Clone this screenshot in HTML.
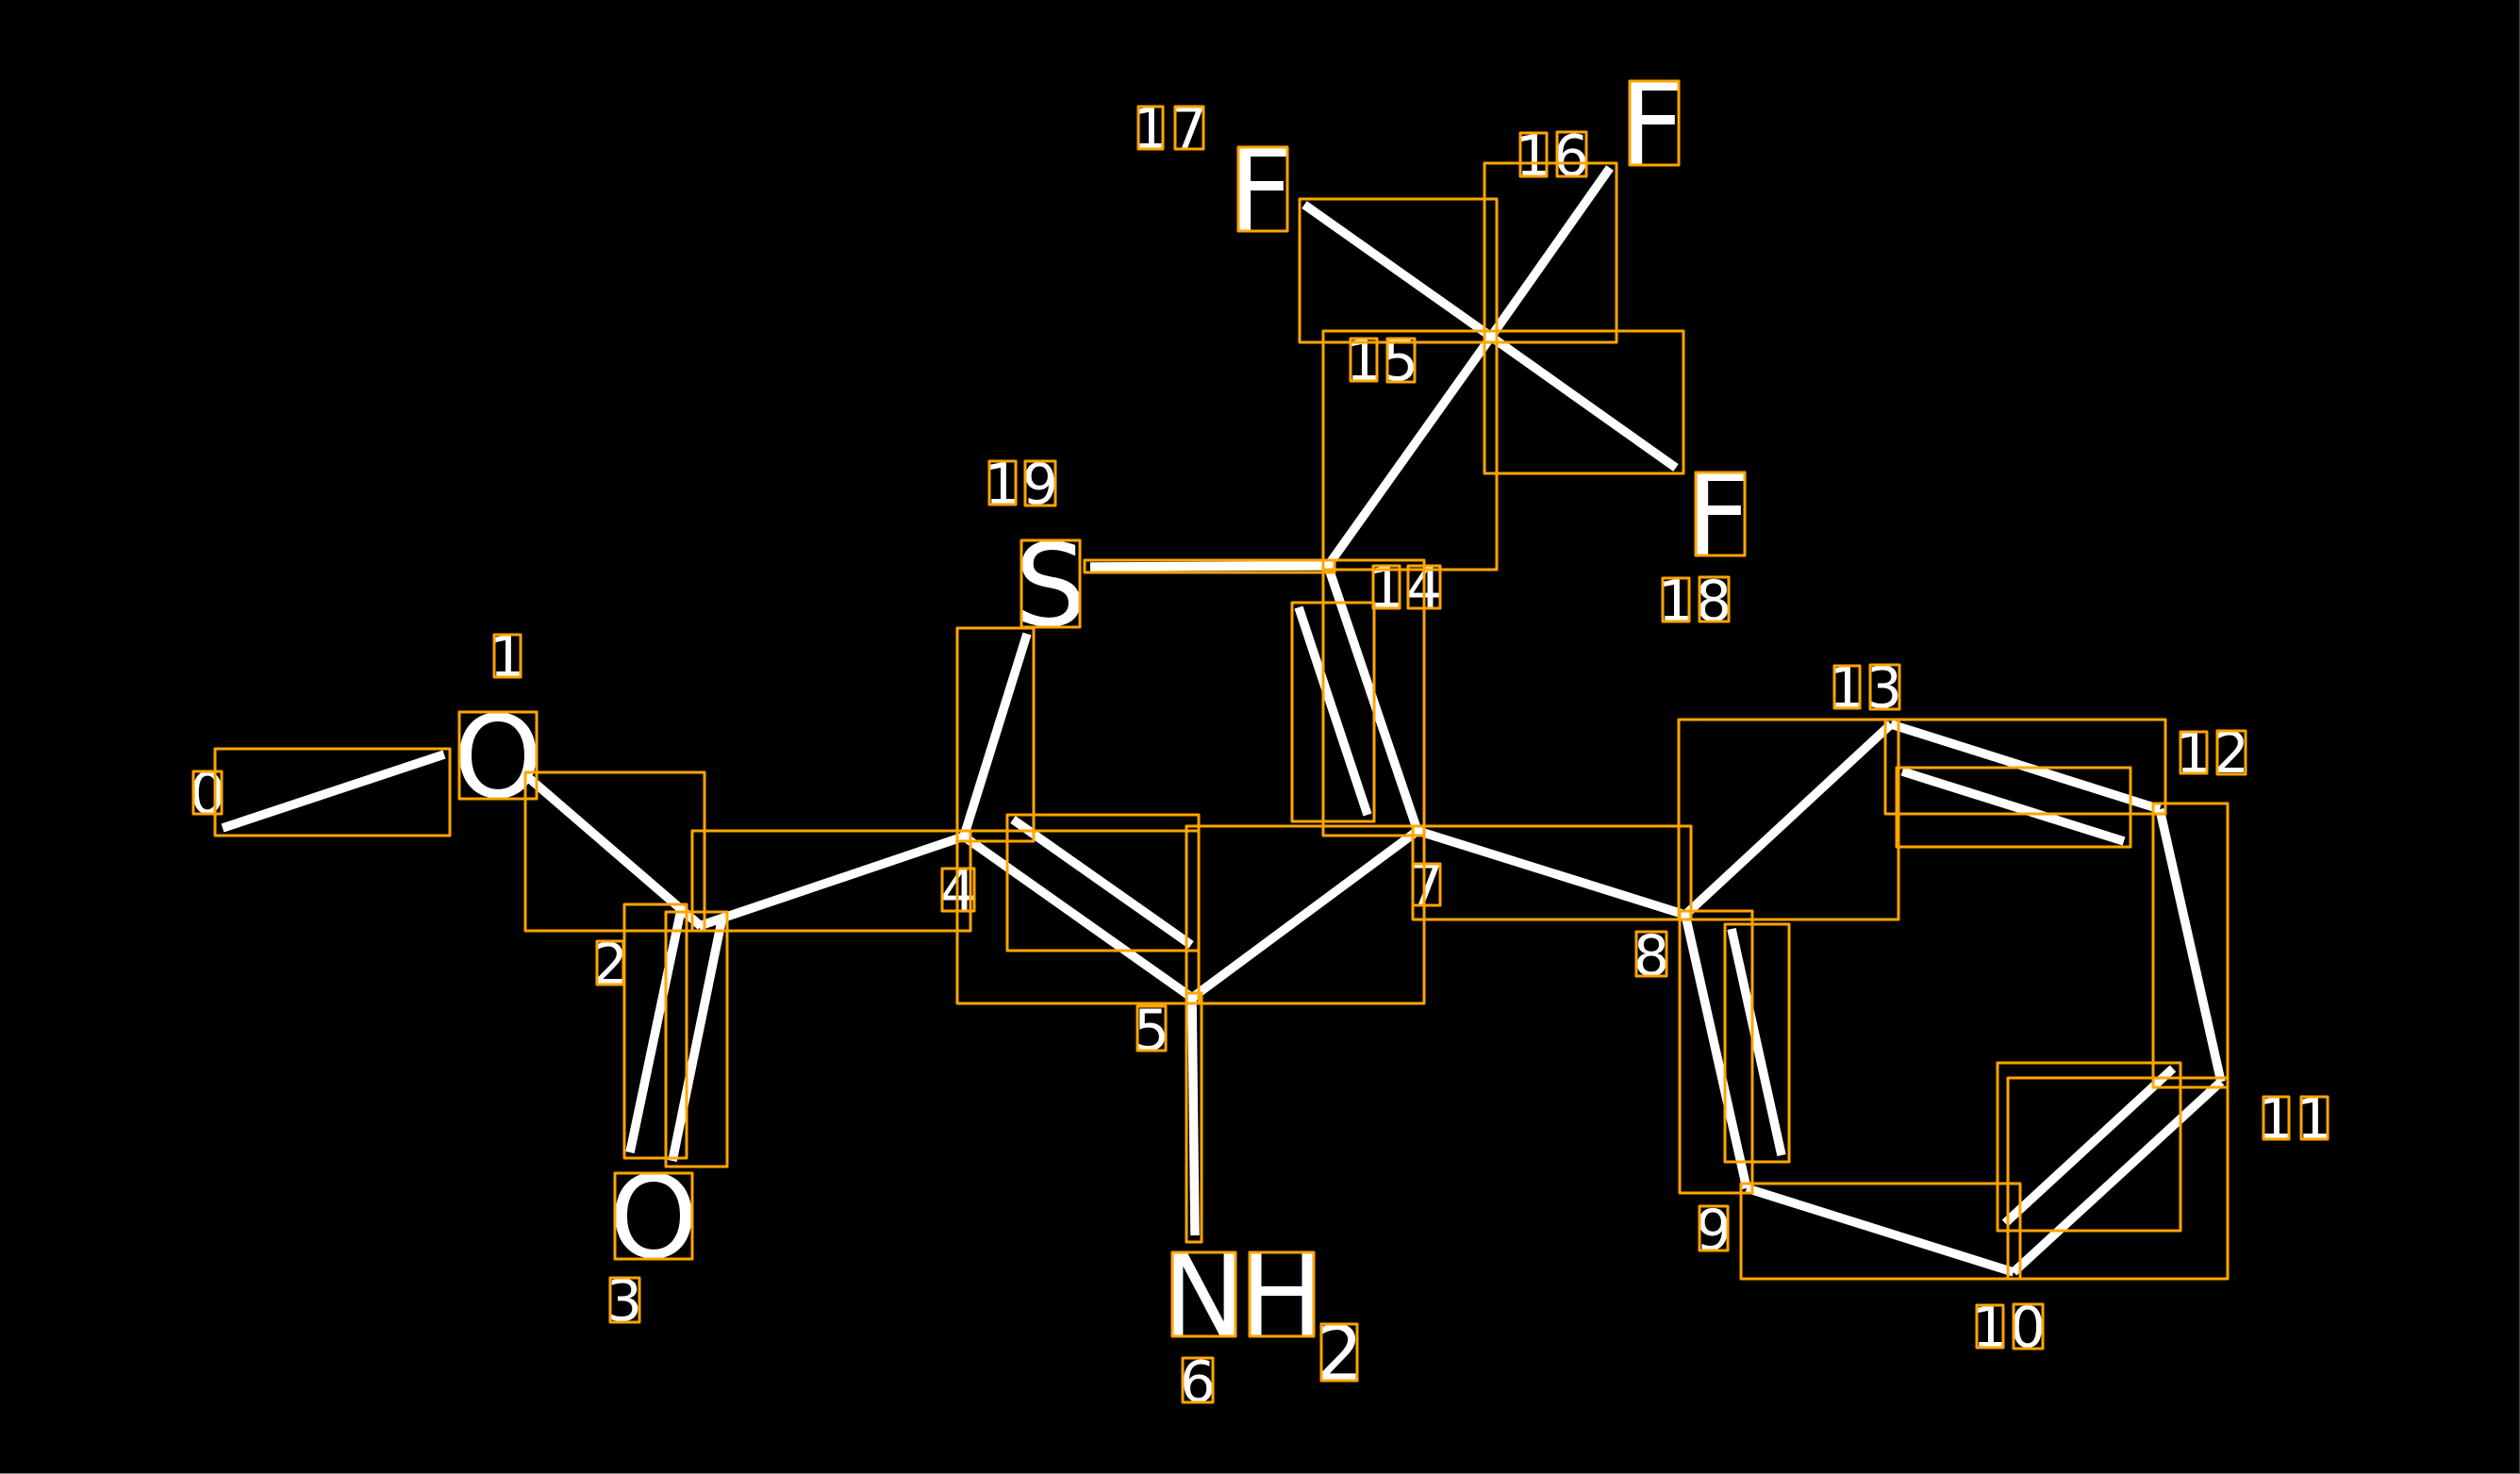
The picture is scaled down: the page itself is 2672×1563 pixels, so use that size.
<!DOCTYPE html>
<html><head><meta charset="utf-8"><style>
html,body{margin:0;padding:0;background:#000}
svg{display:block}
text{font-family:"DejaVu Sans",sans-serif;fill:#fff;text-anchor:middle}
.d{font-size:60px}.b{font-size:120px}.s{font-size:80px}
line{stroke:#fff;stroke-width:9.5}
rect{fill:none;stroke:#FFA500;stroke-width:3;stroke-linejoin:round}
</style></head><body>
<svg xmlns="http://www.w3.org/2000/svg" width="2672" height="1563" viewBox="0 0 2672 1563">
<rect x="0" y="0" width="2672" height="1563" style="fill:#000;stroke:none"/>
<rect x="0" y="1562" width="2672" height="1" style="fill:#8a8a8a;stroke:none"/>
<rect x="2671" y="0" width="1" height="1563" style="fill:#444;stroke:none"/>
<text class="d" x="220" y="862">0</text>
<text class="d" x="538" y="717">1</text>
<text class="b" x="528" y="845">O</text>
<text class="d" x="647" y="1043">2</text>
<text class="b" x="693" y="1333">O</text>
<text class="d" x="662" y="1400">3</text>
<text class="d" x="1016" y="965">4</text>
<text class="b" x="1114" y="663">S</text>
<text class="d" x="1221" y="1113">5</text>
<text class="d" x="1512" y="959">7</text>
<text class="d" x="1270" y="1486">6</text>
<text class="b" x="1276" y="1416">N</text>
<text class="b" x="1359" y="1416">H</text>
<text class="s" x="1420" y="1463">2</text>
<text class="d" x="1751" y="1034">8</text>
<text class="d" x="1817" y="1325">9</text>
<text class="d" x="2110" y="1428">1</text><text class="d" x="2150" y="1428">0</text>
<text class="d" x="2413" y="1207">1</text><text class="d" x="2454" y="1207">1</text>
<text class="d" x="2326" y="819">1</text><text class="d" x="2366" y="819">2</text>
<text class="d" x="1958" y="750">1</text><text class="d" x="1998" y="750">3</text>
<text class="d" x="1470" y="644">1</text><text class="d" x="1510" y="644">4</text>
<text class="d" x="1446" y="403">1</text><text class="d" x="1485" y="403">5</text>
<text class="d" x="1626" y="186">1</text><text class="d" x="1666" y="186">6</text>
<text class="d" x="1220" y="157">1</text><text class="d" x="1261" y="157">7</text>
<text class="d" x="1777" y="658">1</text><text class="d" x="1817" y="658">8</text>
<text class="d" x="1063" y="534">1</text><text class="d" x="1103" y="534">9</text>
<text class="b" x="1752" y="174">F</text>
<text class="b" x="1337" y="244">F</text>
<text class="b" x="1822" y="588">F</text>

<line x1="236" y1="878" x2="471" y2="800"/>
<line x1="562" y1="826" x2="743" y2="982"/>
<line x1="668" y1="1222" x2="722" y2="965"/>
<line x1="713" y1="1231" x2="766" y2="972"/>
<line x1="741" y1="982" x2="1022" y2="887"/>
<line x1="1089" y1="672" x2="1022" y2="887"/>
<line x1="1022" y1="887" x2="1264" y2="1058"/>
<line x1="1074" y1="869" x2="1263" y2="1002"/>
<line x1="1264" y1="1058" x2="1267" y2="1310"/>
<line x1="1264" y1="1058" x2="1503" y2="881"/>
<line x1="1408" y1="600" x2="1503" y2="881"/>
<line x1="1377" y1="644" x2="1450" y2="864"/>
<line x1="1156" y1="601" x2="1408" y2="600"/>
<line x1="1408" y1="600" x2="1581" y2="357"/>
<line x1="1581" y1="357" x2="1707" y2="178"/>
<line x1="1581" y1="357" x2="1383" y2="217"/>
<line x1="1581" y1="357" x2="1777" y2="496"/>
<line x1="1503" y1="881" x2="1787" y2="970"/>
<line x1="1787" y1="970" x2="2005" y2="768"/>
<line x1="1787" y1="970" x2="1852" y2="1260"/>
<line x1="1836" y1="985" x2="1889" y2="1225"/>
<line x1="1852" y1="1260" x2="2135" y2="1349"/>
<line x1="2135" y1="1349" x2="2355" y2="1147"/>
<line x1="2126" y1="1297" x2="2304" y2="1133"/>
<line x1="2290" y1="858" x2="2355" y2="1147"/>
<line x1="2005" y1="768" x2="2290" y2="858"/>
<line x1="2017" y1="818" x2="2252" y2="892"/>

<rect x="228" y="794" width="249" height="92"/>
<rect x="557" y="819" width="190" height="168"/>
<rect x="662" y="959" width="66" height="269"/>
<rect x="706" y="967" width="65" height="270"/>
<rect x="734" y="881" width="295" height="106"/>
<rect x="1015" y="666" width="81" height="226"/>
<rect x="1015" y="881" width="256" height="183"/>
<rect x="1068" y="864" width="203" height="144"/>
<rect x="1258" y="1053" width="16" height="264"/>
<rect x="1258" y="876" width="252" height="188"/>
<rect x="1403" y="594" width="107" height="292"/>
<rect x="1370" y="639" width="87" height="232"/>
<rect x="1150" y="594" width="265" height="13"/>
<rect x="1403" y="351" width="184" height="253"/>
<rect x="1574" y="173" width="140" height="190"/>
<rect x="1378" y="211" width="209" height="152"/>
<rect x="1574" y="351" width="211" height="151"/>
<rect x="1498" y="876" width="295" height="99"/>
<rect x="1780" y="763" width="233" height="212"/>
<rect x="1781" y="966" width="77" height="299"/>
<rect x="1829" y="980" width="68" height="252"/>
<rect x="1846" y="1255" width="296" height="101"/>
<rect x="2129" y="1143" width="233" height="213"/>
<rect x="2118" y="1127" width="194" height="178"/>
<rect x="2283" y="852" width="79" height="301"/>
<rect x="1999" y="763" width="297" height="100"/>
<rect x="2011" y="814" width="248" height="84"/>

<rect x="205" y="818" width="30" height="45"/>
<rect x="524" y="673" width="28" height="45"/>
<rect x="487" y="755" width="82" height="92"/>
<rect x="633" y="998" width="28" height="46"/>
<rect x="652" y="1244" width="82" height="91"/>
<rect x="647" y="1355" width="31" height="47"/>
<rect x="999" y="921" width="34" height="45"/>
<rect x="1083" y="573" width="62" height="92"/>
<rect x="1206" y="1067" width="30" height="47"/>
<rect x="1498" y="916" width="29" height="44"/>
<rect x="1254" y="1440" width="32" height="47"/>
<rect x="1243" y="1328" width="67" height="89"/>
<rect x="1325" y="1328" width="68" height="89"/>
<rect x="1401" y="1404" width="38" height="60"/>
<rect x="1735" y="988" width="32" height="47"/>
<rect x="1802" y="1279" width="30" height="47"/>
<rect x="2096" y="1384" width="28" height="45"/><rect x="2135" y="1383" width="31" height="47"/>
<rect x="2400" y="1163" width="27" height="45"/><rect x="2440" y="1163" width="28" height="45"/>
<rect x="2312" y="776" width="28" height="44"/><rect x="2351" y="775" width="30" height="46"/>
<rect x="1945" y="706" width="27" height="45"/><rect x="1983" y="705" width="31" height="47"/>
<rect x="1456" y="600" width="28" height="45"/><rect x="1493" y="600" width="34" height="45"/>
<rect x="1432" y="359" width="28" height="45"/><rect x="1471" y="359" width="29" height="46"/>
<rect x="1612" y="141" width="28" height="46"/><rect x="1651" y="140" width="31" height="47"/>
<rect x="1207" y="113" width="26" height="45"/><rect x="1246" y="113" width="30" height="45"/>
<rect x="1763" y="613" width="28" height="46"/><rect x="1802" y="612" width="31" height="47"/>
<rect x="1049" y="489" width="28" height="46"/><rect x="1087" y="489" width="32" height="47"/>
<rect x="1728" y="86" width="52" height="89"/>
<rect x="1313" y="156" width="52" height="89"/>
<rect x="1798" y="501" width="52" height="88"/>
</svg>
</body></html>
